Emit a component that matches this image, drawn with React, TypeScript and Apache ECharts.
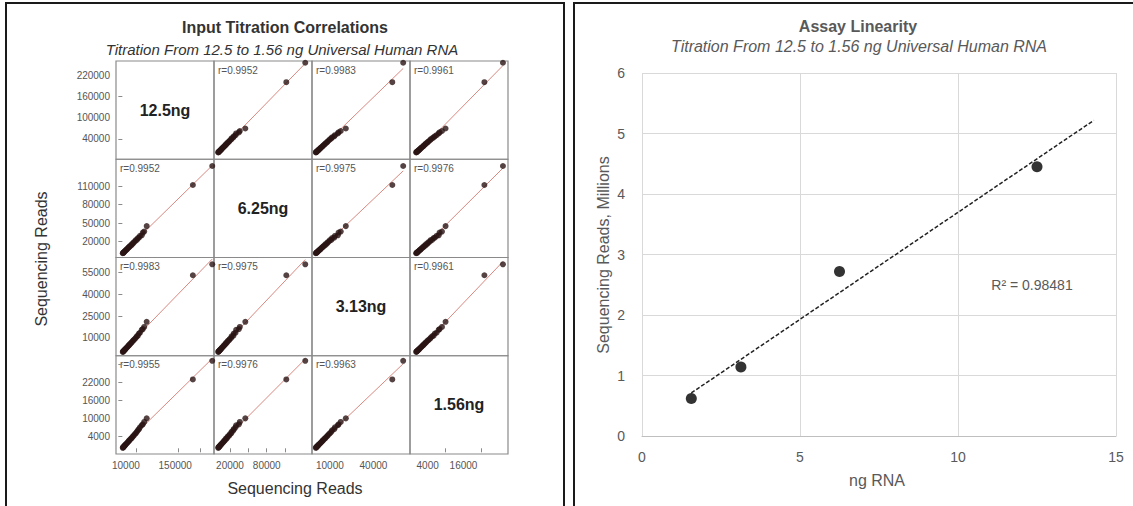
import React, { useEffect, useRef } from "react";
import * as echarts from "echarts";

// ---------- Data: left panel (scatterplot matrix) ----------
const titrationLabels = ["12.5ng", "6.25ng", "3.13ng", "1.56ng"];

const reads125ng = [255000, 200000, 69000, 62000, 58000, 55000, 50000, 47000, 44000, 41000, 38000, 35000, 32000, 30000, 27000, 25000, 22000, 20000, 18000, 16000, 14000, 12000, 10000, 8500, 7000, 5500, 4000, 3000, 2000, 1200];
const reads625ng = [143000, 112000, 45000, 36000, 34500, 30000, 29000, 26000, 25500, 22500, 22000, 19500, 18500, 16500, 15500, 13500, 13000, 11000, 10500, 9000, 8000, 6500, 6000, 4800, 4000, 3100, 2300, 1700, 1100, 700];
const reads313ng = [60500, 53000, 21000, 17500, 16000, 15500, 13500, 13000, 11500, 11000, 10000, 9200, 8400, 8000, 7000, 6600, 5800, 5200, 4800, 4200, 3700, 3200, 2600, 2300, 1800, 1500, 1050, 800, 550, 330];
const reads156ng = [29200, 23000, 10000, 8800, 8000, 7700, 7000, 6400, 6000, 5500, 5000, 4700, 4200, 4000, 3500, 3300, 2900, 2650, 2400, 2100, 1850, 1600, 1350, 1150, 950, 750, 550, 400, 280, 170];

const readsAxisMin = [-18000, -6200, -2300, -1900];
const readsAxisMax = [260000, 154000, 65200, 30900];

const yTickLabels = [
  [40000, 100000, 160000, 220000],
  [20000, 50000, 80000, 110000],
  [10000, 25000, 40000, 55000],
  [4000, 10000, 16000, 22000],
];
const yTickMarks = [
  [40000, 160000],
  [20000, 50000, 80000, 110000],
  [25000, 40000, 55000],
  [4000, 16000, 22000, 28000],
];
const xTickLabels = [
  [10000, 150000],
  [20000, 80000],
  [10000, 40000],
  [4000, 16000],
];
const xTickMarks = [
  [40000, 160000, 220000],
  [20000, 50000, 80000, 110000],
  [],
  [10000, 22000],
];

const correlationLabels = [
  ["", "r=0.9952", "r=0.9983", "r=0.9961"],
  ["r=0.9952", "", "r=0.9975", "r=0.9976"],
  ["r=0.9983", "r=0.9975", "", "r=0.9961"],
  ["r=0.9955", "r=0.9976", "r=0.9963", ""],
];

// ---------- Data: right panel (assay linearity) ----------
const ngRNA = [1.56, 3.13, 6.25, 12.5];
const readsMillions = [0.62, 1.14, 2.72, 4.45];
const trendForwardTo = 14.3;
const rSquaredLabel = "R\u00B2 = 0.98481";

const FONT = '"Liberation Sans", Arial, sans-serif';

function linearFit(xs: number[], ys: number[]) {
  const n = xs.length;
  const mx = xs.reduce((a, b) => a + b, 0) / n;
  const my = ys.reduce((a, b) => a + b, 0) / n;
  let sxy = 0;
  let sxx = 0;
  for (let k = 0; k < n; k++) {
    sxy += (xs[k] - mx) * (ys[k] - my);
    sxx += (xs[k] - mx) * (xs[k] - mx);
  }
  const slope = sxy / sxx;
  return { slope, intercept: my - slope * mx };
}

export default function App() {
  const ref = useRef<HTMLDivElement>(null);

  useEffect(() => {
    document.body.style.margin = "0";
    if (!ref.current) return;
    const chart = echarts.init(ref.current, undefined, { renderer: "svg" });

    const vars = [reads125ng, reads625ng, reads313ng, reads156ng];
    const mLeft = 116;
    const mTop = 61;
    const cellW = 98;
    const cellH = 98.25;

    const grids: any[] = [];
    const xAxes: any[] = [];
    const yAxes: any[] = [];
    const series: any[] = [];
    const graphics: any[] = [];

    for (let i = 0; i < 4; i++) {
      for (let j = 0; j < 4; j++) {
        const k = i * 4 + j;
        const left = mLeft + j * cellW;
        const top = mTop + i * cellH;
        grids.push({
          left,
          top,
          width: cellW,
          height: cellH,
          show: true,
          borderColor: "#8a8a8a",
          borderWidth: 1.2,
          backgroundColor: "transparent",
        });
        const bottomRow = i === 3;
        const leftCol = j === 0;
        xAxes.push({
          type: "value",
          gridIndex: k,
          min: readsAxisMin[j],
          max: readsAxisMax[j],
          axisLine: { show: false },
          splitLine: { show: false },
          axisTick: {
            show: bottomRow && xTickMarks[j].length > 0,
            customValues: xTickMarks[j],
            length: 4,
            lineStyle: { color: "#8a8a8a" },
          },
          axisLabel: {
            show: bottomRow,
            customValues: xTickLabels[j],
            formatter: (v: number) => String(v),
            fontSize: 10,
            fontFamily: FONT,
            color: "#555",
            margin: 6,
          },
        });
        yAxes.push({
          type: "value",
          gridIndex: k,
          min: readsAxisMin[i],
          max: readsAxisMax[i],
          axisLine: { show: false },
          splitLine: { show: false },
          axisTick: {
            show: leftCol,
            customValues: yTickMarks[i],
            length: 4,
            lineStyle: { color: "#8a8a8a" },
          },
          axisLabel: {
            show: leftCol,
            customValues: yTickLabels[i],
            formatter: (v: number) => String(v),
            fontSize: 10,
            fontFamily: FONT,
            color: "#555",
            margin: 6,
          },
        });

        if (i === j) {
          graphics.push({
            type: "text",
            x: left + cellW / 2,
            y: top + cellH / 2,
            style: {
              text: titrationLabels[i],
              fontSize: 16,
              fontWeight: "bold",
              fontFamily: FONT,
              fill: "#222",
              align: "center",
              verticalAlign: "middle",
            },
          });
        } else {
          const xs = vars[j];
          const ys = vars[i];
          const fit = linearFit(xs, ys);
          const x0 = Math.min(...xs);
          const x1 = Math.max(...xs);
          series.push({
            type: "line",
            xAxisIndex: k,
            yAxisIndex: k,
            data: [
              [x0, fit.intercept + fit.slope * x0],
              [x1, fit.intercept + fit.slope * x1],
            ],
            symbol: "none",
            silent: true,
            lineStyle: { color: "#c0392b", width: 1, opacity: 0.6 },
            z: 2,
          });
          series.push({
            type: "scatter",
            xAxisIndex: k,
            yAxisIndex: k,
            data: xs.map((x, idx) => [x, ys[idx]]),
            symbolSize: 6,
            itemStyle: { color: "#2a1414" },
            z: 3,
          });
          graphics.push({
            type: "text",
            x: left + 4,
            y: top + 9,
            style: {
              text: correlationLabels[i][j],
              fontSize: 10,
              fontFamily: FONT,
              fill: "#555",
              align: "left",
              verticalAlign: "middle",
            },
          });
        }
      }
    }

    // Right panel
    const rk = 16;
    grids.push({ left: 642, top: 73, width: 474, height: 363 });
    xAxes.push({
      type: "value",
      gridIndex: rk,
      min: 0,
      max: 15,
      interval: 5,
      axisLine: { show: true, lineStyle: { color: "#bfbfbf", width: 1 } },
      axisTick: { show: false },
      splitLine: { show: true, lineStyle: { color: "#d9d9d9", width: 1 } },
      axisLabel: { fontSize: 14, fontFamily: FONT, color: "#595959", margin: 14 },
    });
    yAxes.push({
      type: "value",
      gridIndex: rk,
      min: 0,
      max: 6,
      interval: 1,
      axisLine: { show: false },
      axisTick: { show: false },
      splitLine: { show: true, lineStyle: { color: "#d9d9d9", width: 1 } },
      axisLabel: { fontSize: 14, fontFamily: FONT, color: "#595959", margin: 17 },
    });
    const trend = linearFit(ngRNA, readsMillions);
    const tx0 = ngRNA[0];
    series.push({
      type: "line",
      xAxisIndex: rk,
      yAxisIndex: rk,
      data: [
        [tx0, trend.intercept + trend.slope * tx0],
        [trendForwardTo, trend.intercept + trend.slope * trendForwardTo],
      ],
      symbol: "none",
      silent: true,
      lineStyle: { color: "#222", width: 1.5, type: [4, 2] },
      z: 2,
    });
    series.push({
      type: "scatter",
      xAxisIndex: rk,
      yAxisIndex: rk,
      data: ngRNA.map((x, idx) => [x, readsMillions[idx]]),
      symbolSize: 11,
      itemStyle: { color: "#000" },
      z: 3,
    });

    graphics.push(
      {
        type: "rect",
        shape: { x: 6, y: 3, width: 558, height: 620 },
        style: { fill: "none", stroke: "#1a1a1a", lineWidth: 2 },
      },
      {
        type: "rect",
        shape: { x: 574, y: 3, width: 620, height: 620 },
        style: { fill: "none", stroke: "#1a1a1a", lineWidth: 2 },
      },
      {
        type: "text",
        x: 285,
        y: 27,
        style: {
          text: "Input Titration Correlations",
          fontSize: 16,
          fontWeight: "bold",
          fontFamily: FONT,
          fill: "#333",
          align: "center",
          verticalAlign: "middle",
        },
      },
      {
        type: "text",
        x: 282,
        y: 49,
        style: {
          text: "Titration From 12.5 to 1.56 ng Universal Human RNA",
          fontSize: 15,
          fontStyle: "italic",
          fontFamily: FONT,
          fill: "#333",
          align: "center",
          verticalAlign: "middle",
        },
      },
      {
        type: "text",
        x: 41,
        y: 259,
        rotation: Math.PI / 2,
        style: {
          text: "Sequencing Reads",
          fontSize: 16,
          fontFamily: FONT,
          fill: "#333",
          align: "center",
          verticalAlign: "middle",
        },
      },
      {
        type: "text",
        x: 295,
        y: 488,
        style: {
          text: "Sequencing Reads",
          fontSize: 16,
          fontFamily: FONT,
          fill: "#333",
          align: "center",
          verticalAlign: "middle",
        },
      },
      {
        type: "text",
        x: 858,
        y: 26,
        style: {
          text: "Assay Linearity",
          fontSize: 16,
          fontWeight: "bold",
          fontFamily: FONT,
          fill: "#595959",
          align: "center",
          verticalAlign: "middle",
        },
      },
      {
        type: "text",
        x: 859,
        y: 46,
        style: {
          text: "Titration From 12.5 to 1.56 ng Universal Human RNA",
          fontSize: 16,
          fontStyle: "italic",
          fontFamily: FONT,
          fill: "#595959",
          align: "center",
          verticalAlign: "middle",
        },
      },
      {
        type: "text",
        x: 603,
        y: 255,
        rotation: Math.PI / 2,
        style: {
          text: "Sequencing Reads, Millions",
          fontSize: 16,
          fontFamily: FONT,
          fill: "#595959",
          align: "center",
          verticalAlign: "middle",
        },
      },
      {
        type: "text",
        x: 877,
        y: 480,
        style: {
          text: "ng RNA",
          fontSize: 16,
          fontFamily: FONT,
          fill: "#595959",
          align: "center",
          verticalAlign: "middle",
        },
      },
      {
        type: "text",
        x: 1032,
        y: 285,
        style: {
          text: rSquaredLabel,
          fontSize: 14,
          fontFamily: FONT,
          fill: "#595959",
          align: "center",
          verticalAlign: "middle",
        },
      }
    );

    chart.setOption({
      animation: false,
      backgroundColor: "#ffffff",
      grid: grids,
      xAxis: xAxes,
      yAxis: yAxes,
      series,
      graphic: { elements: graphics },
    });

    return () => {
      chart.dispose();
    };
  }, []);

  return (
    <div
      ref={ref}
      style={{ position: "fixed", left: 0, top: 0, width: 1133, height: 506 }}
    />
  );
}
